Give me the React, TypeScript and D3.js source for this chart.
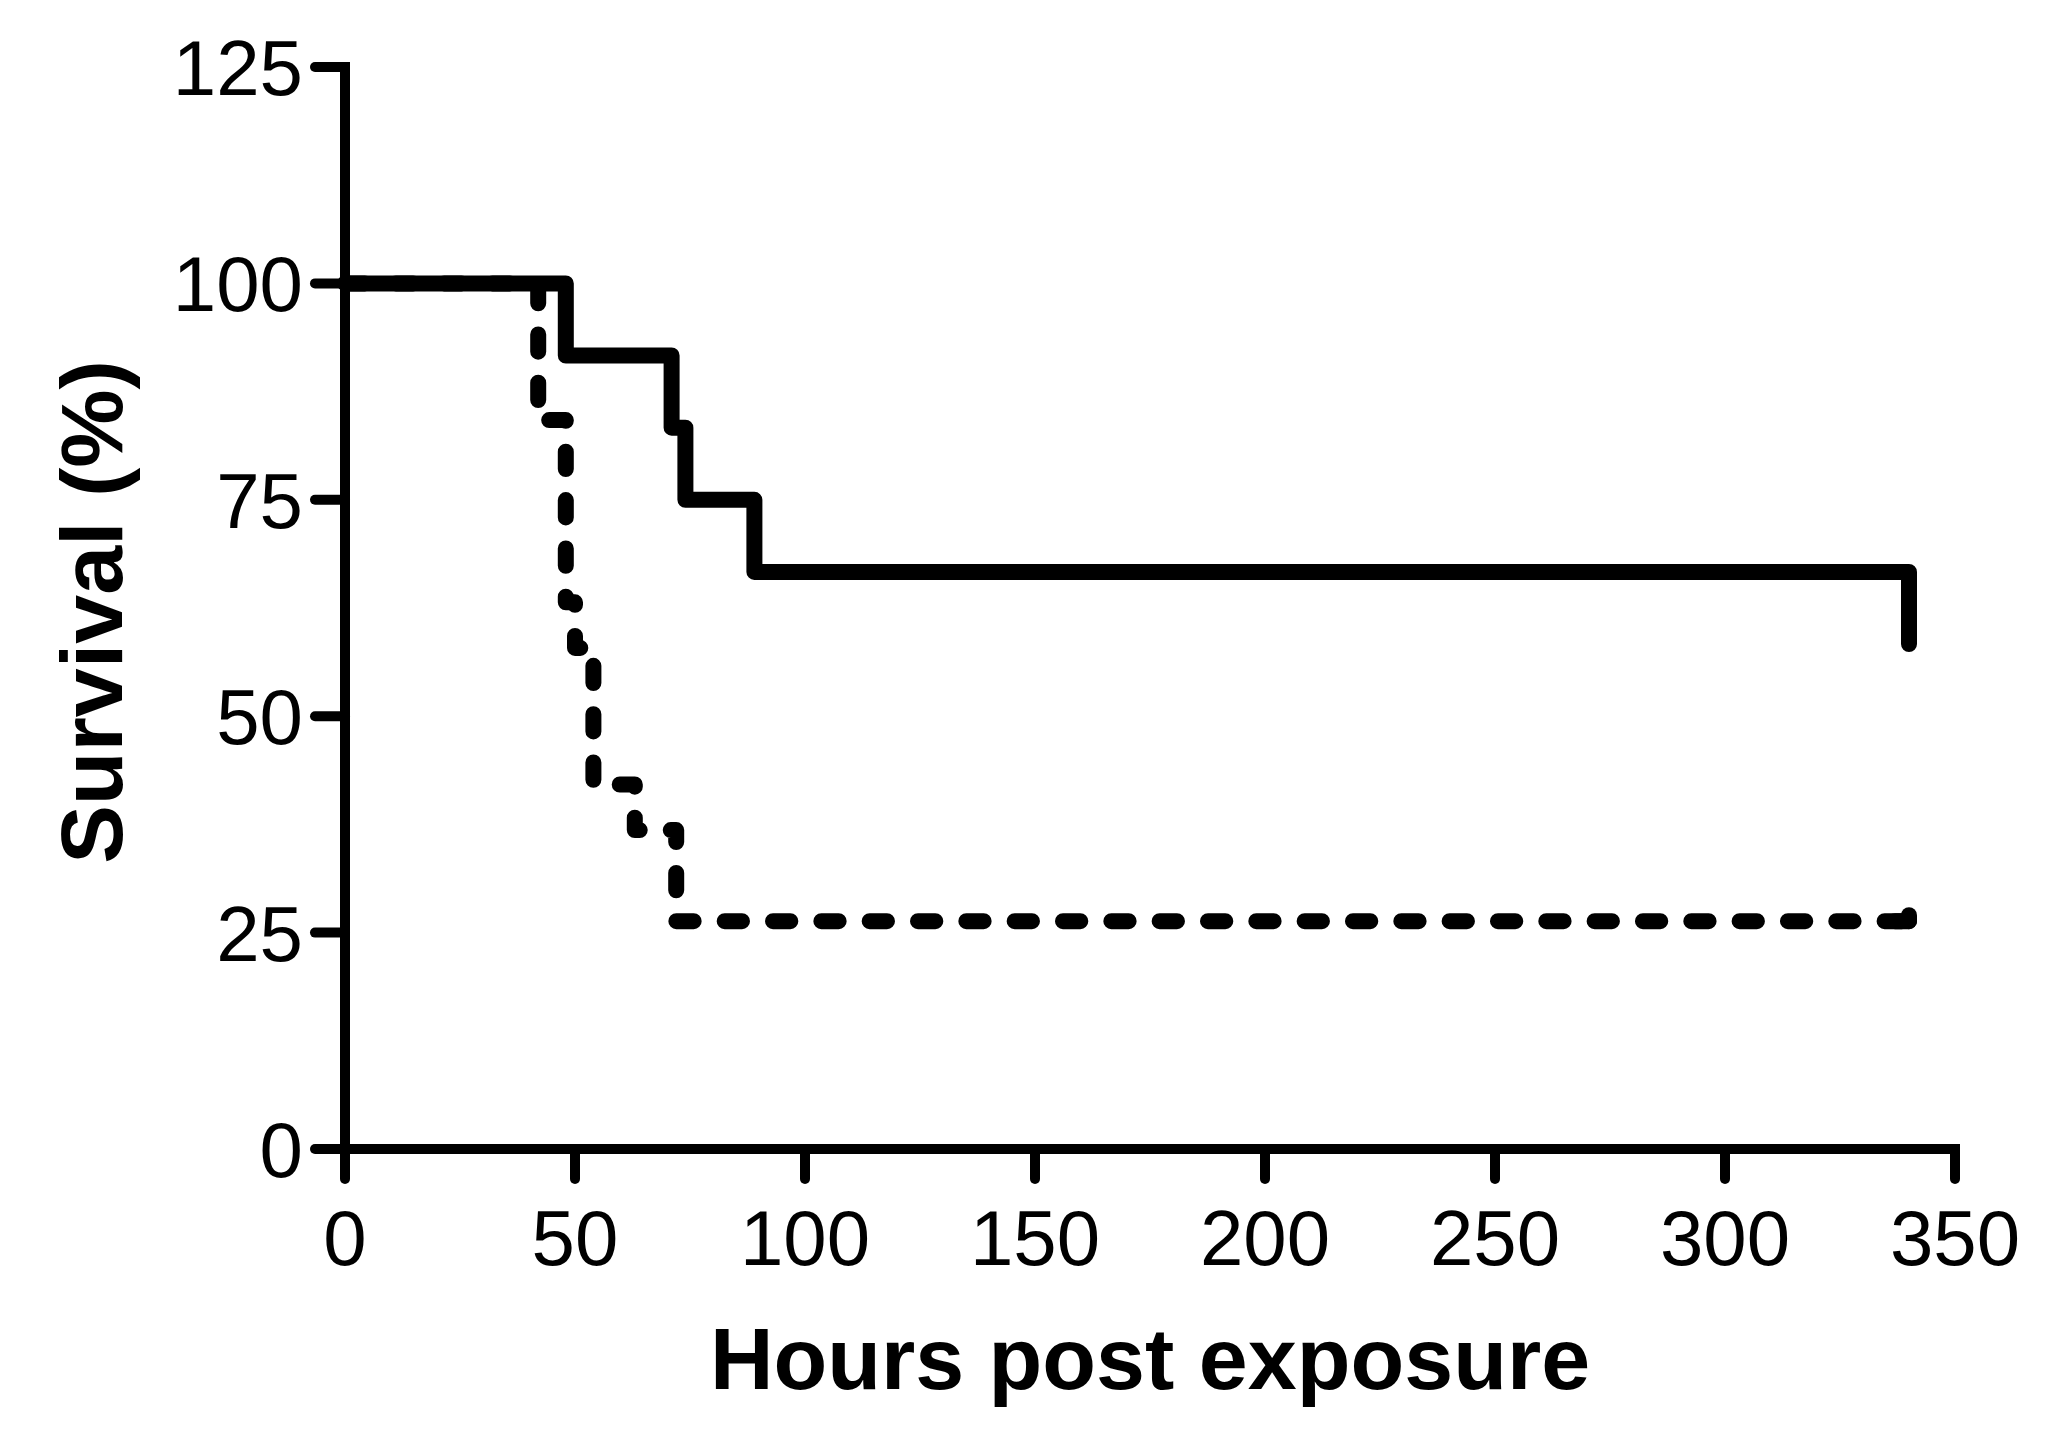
import React from "react";
import * as d3 from "d3";

const xTicks = [0, 50, 100, 150, 200, 250, 300, 350];
const yTicks = [0, 25, 50, 75, 100, 125];

// Kaplan-Meier steps (hours, survival %)
const solidTimes = [0, 48, 71, 74, 89, 340];
const solidSurvival = [100, 91.67, 83.33, 75, 66.67, 58.33];

const dashedTimes = [0, 42, 48, 50, 54, 63, 72, 340];
const dashedSurvival = [100, 84.21, 63.16, 57.89, 42.11, 36.84, 26.32, 26.32];

// censor mark at end of dashed curve
const dashedCensor = [[340, 26.32]];

const xLabel = "Hours post exposure";
const yLabel = "Survival (%)";

export default function App() {
  const W = 2055, H = 1455;
  const x = d3.scaleLinear().domain([0, 350]).range([345, 1955]);
  const y = d3.scaleLinear().domain([0, 125]).range([1149, 67]);

  const line = d3
    .line<[number, number]>()
    .x((d) => x(d[0]))
    .y((d) => y(d[1]))
    .curve(d3.curveStepAfter);

  const solidPts = solidTimes.map((t, i) => [t, solidSurvival[i]] as [number, number]);
  const dashedPts = dashedTimes.map((t, i) => [t, dashedSurvival[i]] as [number, number]);

  const font = "'Liberation Sans', Arial, sans-serif";
  const axisW = 10;
  const tickLen = 30;

  return (
    <svg
      width={W}
      height={H}
      style={{ position: "absolute", left: 0, top: 0, background: "#fff" }}
    >
      <rect x={0} y={0} width={W} height={H} fill="#fff" />
      {/* axes */}
      <line x1={x(0)} y1={y(125)} x2={x(0)} y2={y(0)} stroke="#000" strokeWidth={axisW} strokeLinecap="square" />
      <line x1={x(0)} y1={y(0)} x2={x(350)} y2={y(0)} stroke="#000" strokeWidth={axisW} strokeLinecap="square" />
      {yTicks.map((t) => (
        <g key={"y" + t}>
          <line x1={x(0)} x2={x(0) - tickLen} y1={y(t)} y2={y(t)} stroke="#000" strokeWidth={axisW} strokeLinecap="round" />
          <text x={x(0) - 42} y={y(t)} dy="0.36em" textAnchor="end" fontFamily={font} fontSize={78} fill="#000">
            {t}
          </text>
        </g>
      ))}
      {xTicks.map((t) => (
        <g key={"x" + t}>
          <line x1={x(t)} x2={x(t)} y1={y(0)} y2={y(0) + tickLen} stroke="#000" strokeWidth={axisW} strokeLinecap="round" />
          <text x={x(t)} y={1265} textAnchor="middle" fontFamily={font} fontSize={78} fill="#000">
            {t}
          </text>
        </g>
      ))}
      {/* curves */}
      <path
        d={line(dashedPts) || ""}
        fill="none"
        stroke="#000"
        strokeWidth={16}
        strokeLinecap="round"
        strokeLinejoin="round"
        strokeDasharray="17.3 31.03"
        strokeDashoffset={45.8}
      />
      {dashedCensor.map((d, i) => (
        <line
          key={"c" + i}
          x1={x(d[0]) - 14}
          x2={x(d[0])}
          y1={y(d[1])}
          y2={y(d[1])}
          stroke="#000"
          strokeWidth={16}
          strokeLinecap="round"
        />
      ))}
      {dashedCensor.map((d, i) => (
        <line
          key={"cm" + i}
          x1={x(d[0])}
          x2={x(d[0])}
          y1={y(d[1])}
          y2={y(d[1]) - 6}
          stroke="#000"
          strokeWidth={16}
          strokeLinecap="round"
        />
      ))}
      <path
        d={line(solidPts) || ""}
        fill="none"
        stroke="#000"
        strokeWidth={16}
        strokeLinecap="round"
        strokeLinejoin="round"
      />
      {/* titles */}
      <text x={1150} y={1389} textAnchor="middle" fontFamily={font} fontWeight="bold" fontSize={88} fill="#000">
        {xLabel}
      </text>
      <text
        transform={`translate(122, 612) rotate(-90)`}
        textAnchor="middle"
        fontFamily={font}
        fontWeight="bold"
        fontSize={88}
        fill="#000"
      >
        {yLabel}
      </text>
    </svg>
  );
}
